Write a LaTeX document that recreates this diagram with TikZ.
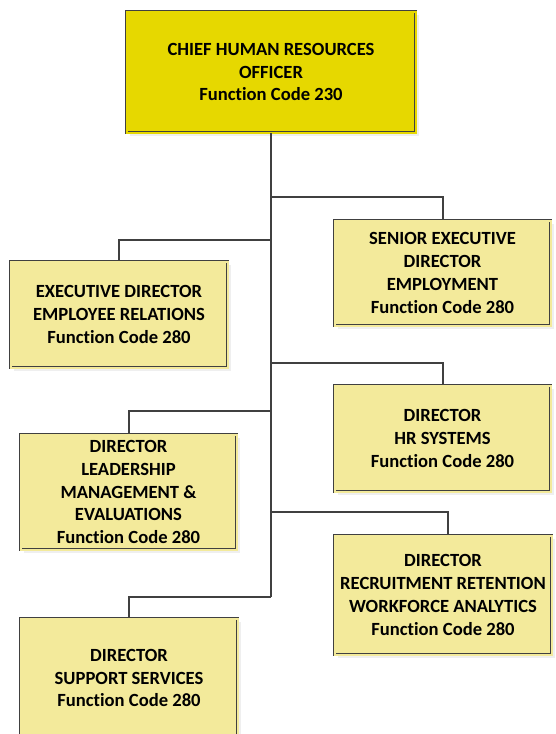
\documentclass[tikz,border=0pt]{standalone}
\usepackage{fontspec}
\setmainfont{Carlito}[Ligatures={NoCommon, NoRequired, NoContextual}]
\usepackage{tikz}
\usetikzlibrary{positioning, shadows}
\definecolor{chiefyellow}{RGB}{230, 216, 0}
\definecolor{unityellow}{RGB}{243, 234, 155}
\definecolor{linegray}{RGB}{64, 64, 64}

\tikzset{
  orgbox/.style={draw=linegray, double distance=2pt, line width=0.9pt,
    align=center, inner sep=0pt, font=\fontsize{18.6}{22.8}\selectfont\bfseries,
    drop shadow={opacity=0.12, shadow xshift=3pt, shadow yshift=-3pt}},
  chief/.style={orgbox, fill=chiefyellow, double=chiefyellow},
  unit/.style={orgbox, fill=unityellow, double=unityellow},
  link/.style={draw=linegray, line width=2pt}
}

\begin{document}
\begin{tikzpicture}[x=1pt, y=-1pt]
  \clip (0,0) rectangle (555,734);
  \fill[white] (0,0) rectangle (555,734);

  % top of the chart
  \node[chief, minimum width=289, minimum height=121] (cho) at (271,72)
    {CHIEF HUMAN RESOURCES\\OFFICER\\Function Code 230};

  % right hand column
  \node[unit, minimum width=216, minimum height=105] (senior) at (442.5,273)
    {SENIOR EXECUTIVE\\DIRECTOR\\EMPLOYMENT\\Function Code 280};
  \node[unit, minimum width=216, minimum height=106] (hrsys) at (442.5,438.5)
    {DIRECTOR\\HR SYSTEMS\\Function Code 280};
  \node[unit, minimum width=217, minimum height=119] (recruit) at (443,595)
    {DIRECTOR\\RECRUITMENT RETENTION\\WORKFORCE ANALYTICS\\Function Code 280};

  % left hand column
  \node[unit, minimum width=217, minimum height=106] (emprel) at (119,314.5)
    {EXECUTIVE DIRECTOR\\EMPLOYEE RELATIONS\\Function Code 280};
  \node[unit, minimum width=216, minimum height=115] (leader) at (128.5,492)
    {DIRECTOR\\LEADERSHIP\\MANAGEMENT \&\\EVALUATIONS\\Function Code 280};
  \node[unit, minimum width=217, minimum height=119] (support) at (129,678)
    {DIRECTOR\\SUPPORT SERVICES\\Function Code 280};

  % junctions on the trunk
  \coordinate (j1) at (cho.south |- 0,197);
  \coordinate (j2) at (cho.south |- 0,240);
  \coordinate (j3) at (cho.south |- 0,363);
  \coordinate (j4) at (cho.south |- 0,411);
  \coordinate (j5) at (cho.south |- 0,512);
  \coordinate (j6) at (cho.south |- 0,597);

  \draw[link] (cho.south) -- (j6);
  \draw[link] (j1) -| (senior.north);
  \draw[link] (j2) -| (emprel.north);
  \draw[link] (j3) -| (hrsys.north);
  \draw[link] (j4) -| (leader.north);
  \draw[link] (j5) -| ([xshift=5pt]recruit.north);
  \draw[link] (j6) -| (support.north);
\end{tikzpicture}
\end{document}
